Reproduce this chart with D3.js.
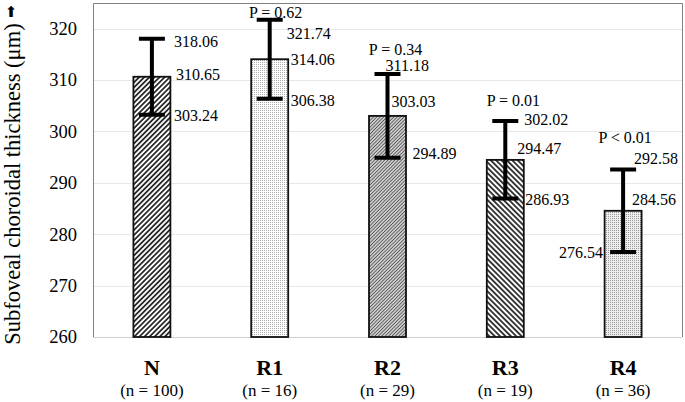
<!DOCTYPE html>
<html><head><meta charset="utf-8">
<script src="https://cdn.jsdelivr.net/npm/d3@7"></script>
<style>body{margin:0;background:#fff}</style>
</head><body><svg id="c" width="685" height="402"></svg>
<script>
// ---- data ----
const categories = ["N", "R1", "R2", "R3", "R4"];
const sampleSizes = ["(n = 100)", "(n = 16)", "(n = 29)", "(n = 19)", "(n = 36)"];
const means = [310.65, 314.06, 303.03, 294.47, 284.56];
const upperCI = [318.06, 321.74, 311.18, 302.02, 292.58];
const lowerCI = [303.24, 306.38, 294.89, 286.93, 276.54];
const pLabels = [null, "P = 0.62", "P = 0.34", "P = 0.01", "P < 0.01"];
const yTicks = [260, 270, 280, 290, 300, 310, 320];
const yTitle = "Subfoveal choroidal thickness (μm)";

// ---- layout (not data) ----
const FONT = "'Liberation Serif', Tinos, 'Times New Roman', Times, 'DejaVu Serif', serif";
const plot = {left: 93, right: 682, top: 3, bottom: 337};
const patternIds = ["pN", "pR1", "pR2", "pR3", "pR4"];
const offUpper = [[22, 3, "start"], [17, 14, "start"], [-2, -9, "start"], [19, -2, "start"], [11, -11, "start"]];
const offMean  = [[24, -2, "start"], [21, 0, "start"], [4, -14, "start"], [12, -11, "start"], [9, -11, "start"]];
const offLower = [[22, 1, "start"], [21, 2, "start"], [25, -4, "start"], [20, 1, "start"], [-20, 0, "end"]];
const offP     = [null, [6, -7], [8, -25], [8, -21], [2, -32]];

const svg = d3.select("#c");
const y = d3.scaleLinear().domain([260, 325]).range([plot.bottom, plot.top]);
const x = d3.scaleBand().domain(categories).range([plot.left, plot.right])
  .paddingInner(0.686).paddingOuter(0.343);

// patterns
const defs = svg.append("defs");
function hatch(id, angle, size, bg, stroke, sw) {
  const p = defs.append("pattern").attr("id", id).attr("patternUnits", "userSpaceOnUse")
    .attr("width", size).attr("height", size).attr("patternTransform", `rotate(${angle})`);
  p.append("rect").attr("width", size).attr("height", size).attr("fill", bg);
  p.append("line").attr("x1", size / 2).attr("y1", 0).attr("x2", size / 2).attr("y2", size)
    .attr("stroke", stroke).attr("stroke-width", sw);
}
function dots(id, size, bg, dot, r) {
  const p = defs.append("pattern").attr("id", id).attr("patternUnits", "userSpaceOnUse")
    .attr("width", size).attr("height", size);
  p.append("rect").attr("width", size).attr("height", size).attr("fill", bg);
  p.append("rect").attr("x", 0).attr("y", 0).attr("width", r).attr("height", r).attr("fill", dot);
}
hatch("pN", 45, 3.6, "#fff", "#000", 1.5);
dots("pR1", 2, "#fff", "#aaa", 1);
hatch("pR2", 45, 2.4, "#d4d4d4", "#555", 0.9);
hatch("pR3", -45, 3.8, "#fff", "#000", 1.5);
dots("pR4", 2, "#eee", "#999", 1);

// gridlines
svg.append("g").selectAll("line").data(yTicks).join("line")
  .attr("x1", plot.left).attr("x2", plot.right)
  .attr("y1", d => Math.round(y(d)) + 0.5).attr("y2", d => Math.round(y(d)) + 0.5)
  .attr("stroke", d => d === 260 ? "#d0d0d0" : "#e8e8e8").attr("stroke-width", 1);

// frame (left, top, right)
svg.append("path")
  .attr("d", `M${plot.left + 0.5},${plot.bottom}V${plot.top + 0.5}H${plot.right + 0.5}V${plot.bottom}`)
  .attr("fill", "none").attr("stroke", "#808080").attr("stroke-width", 1);

// y tick labels
const yAxis = d3.axisLeft(y).tickValues(yTicks).tickSize(0).tickPadding(16);
const ya = svg.append("g").attr("transform", `translate(${plot.left},0)`).call(yAxis);
ya.select(".domain").remove();
ya.attr("font-family", null).attr("font-size", null);
ya.selectAll("text").style("font-size", "18.5px").style("font-family", FONT).attr("fill", "#000");

// y title
svg.append("text").attr("transform", `translate(20,184) rotate(-90)`)
  .attr("text-anchor", "middle").style("font-size", "22.5px").style("font-family", FONT).text(yTitle);
svg.append("text").attr("x", 11).attr("y", 17).attr("text-anchor", "middle")
  .style("font-size", "15px").style("font-family", "'DejaVu Sans',sans-serif").text("⬆");

// bars
const idx = d3.range(categories.length);
svg.append("g").selectAll("rect").data(idx).join("rect")
  .attr("x", i => x(categories[i])).attr("width", x.bandwidth())
  .attr("y", i => y(means[i])).attr("height", i => y(260) - y(means[i]))
  .attr("fill", i => `url(#${patternIds[i]})`)
  .attr("stroke", "#111").attr("stroke-width", 1.8);

// error bars
const cx = i => x(categories[i]) + x.bandwidth() / 2;
const eb = svg.append("g").attr("stroke", "#000").attr("stroke-width", 4).attr("fill", "none");
eb.selectAll("path").data(idx).join("path")
  .attr("d", i => `M${cx(i) - 13},${y(upperCI[i])}H${cx(i) + 13}M${cx(i)},${y(upperCI[i])}V${y(lowerCI[i])}M${cx(i) - 13},${y(lowerCI[i])}H${cx(i) + 13}`);

// value labels
function labels(vals, offs) {
  svg.append("g").selectAll("text").data(idx).join("text")
    .attr("x", i => cx(i) + offs[i][0]).attr("y", i => y(vals[i]) + offs[i][1])
    .attr("dy", "0.35em").attr("text-anchor", i => offs[i][2])
    .style("font-size", "16px").style("font-family", FONT).text(i => vals[i].toFixed(2));
}
labels(upperCI, offUpper);
labels(means, offMean);
labels(lowerCI, offLower);

svg.append("g").selectAll("text").data(idx.filter(i => pLabels[i])).join("text")
  .attr("x", i => cx(i) + offP[i][0]).attr("y", i => y(upperCI[i]) + offP[i][1])
  .attr("dy", "0.35em").attr("text-anchor", "middle")
  .style("font-size", "16px").style("font-family", FONT).text(i => pLabels[i]);

// category labels
svg.append("g").selectAll("text").data(idx).join("text")
  .attr("x", i => cx(i)).attr("y", 375).attr("text-anchor", "middle")
  .style("font-size", "22px").style("font-weight", "bold").style("font-family", FONT).text(i => categories[i]);
svg.append("g").selectAll("text").data(idx).join("text")
  .attr("x", i => cx(i)).attr("y", 396).attr("text-anchor", "middle")
  .style("font-size", "17px").style("font-family", FONT).text(i => sampleSizes[i]);
</script></body></html>
